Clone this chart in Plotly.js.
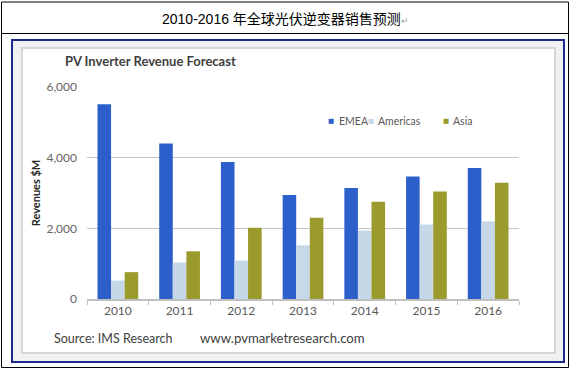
<!DOCTYPE html>
<html><head><meta charset="utf-8">
<script src="https://cdn.plot.ly/plotly-3.0.1.min.js"></script>
<style>html,body{margin:0;padding:0;background:#fff;overflow:hidden;} #chart{width:573px;height:369px;}</style>
</head><body><div id="chart"></div>
<script>
const years = ['2010','2011','2012','2013','2014','2015','2016'];
const emea = [5510, 4400, 3880, 2940, 3140, 3470, 3710];
const americas = [520, 1030, 1090, 1520, 1940, 2110, 2190];
const asia = [760, 1350, 2020, 2300, 2750, 3040, 3290];
const seriesNames = ['EMEA','Americas','Asia'];
const seriesColors = ['#2d5fcb','#c6d7e7','#9b9a2c'];
const yTickVals = [0, 2000, 4000, 6000];
const yTickText = ['0', '2,000', '4,000', '6,000'];
const captionText = '2010-2016 年全球光伏逆变器销售预测';
const chartTitle = 'PV Inverter Revenue Forecast';
const yTitle = 'Revenues $M';
const sourceText = 'Source: IMS Research';
const urlText = 'www.pvmarketresearch.com';

const W = 573, H = 369, L = 87, R = 519, T = 87, B = 299;
const px = x => (x - L) / (R - L);
const py = y => (B - y) / (B - T);

const allValues = [emea, americas, asia];
const traces = allValues.map((vals, i) => ({
  type: 'bar', name: seriesNames[i], x: years, y: vals,
  marker: {color: seriesColors[i], line: {width: 0}},
  hoverinfo: 'x+y+name'
}));

const font = 'Lato, "Open Sans", "DejaVu Sans", sans-serif';

const legendMarkX = [331, 371, 446];
const legendTextX = [336.5, 376, 451];
const annotations = [
  {xref: 'paper', yref: 'paper', x: px(285), y: py(19), xanchor: 'center', yanchor: 'middle', showarrow: false,
   text: captionText + '<span style="color:#a0a0a0;font-size:9px">↵</span>',
   font: {family: '"Liberation Sans", Arial, "Noto Sans CJK SC", sans-serif', size: 14, color: '#000'}},
  {xref: 'paper', yref: 'paper', x: px(52), y: py(338), xanchor: 'left', yanchor: 'middle', showarrow: false,
   text: sourceText, font: {family: font, size: 12.5, color: '#404040'}},
  {xref: 'paper', yref: 'paper', x: px(198), y: py(338), xanchor: 'left', yanchor: 'middle', showarrow: false,
   text: urlText, font: {family: font, size: 13.2, color: '#404040'}}
];
seriesNames.forEach((n, i) => {
  annotations.push({xref: 'paper', yref: 'paper', x: px(legendMarkX[i]), y: py(121), xanchor: 'center', yanchor: 'middle', showarrow: false,
    text: '■', font: {family: '"DejaVu Sans", sans-serif', size: 6.5, color: seriesColors[i]}});
  annotations.push({xref: 'paper', yref: 'paper', x: px(legendTextX[i]), y: py(121), xanchor: 'left', yanchor: 'middle', showarrow: false,
    text: n, font: {family: font, size: 10.5, color: '#595959'}});
});

const shapes = [
  {type: 'rect', xref: 'paper', yref: 'paper', x0: px(12), x1: px(564), y0: py(362), y1: py(40),
   fillcolor: '#f1f1f1', line: {color: '#1a2a8c', width: 2}, layer: 'below'},
  {type: 'rect', xref: 'paper', yref: 'paper', x0: px(22), x1: px(555), y0: py(353), y1: py(48),
   fillcolor: '#ffffff', line: {color: '#d6d6d6', width: 2}, layer: 'below'},
  {type: 'rect', xref: 'paper', yref: 'paper', x0: px(1.5), x1: px(568.5), y0: py(367.5), y1: py(2),
   fillcolor: 'rgba(0,0,0,0)', line: {color: '#000', width: 1}, layer: 'below'},
  {type: 'line', xref: 'paper', yref: 'paper', x0: px(1.5), x1: px(568.5), y0: py(33.5), y1: py(33.5),
   line: {color: '#000', width: 1}, layer: 'below'}
];

const layout = {
  width: W, height: H,
  margin: {l: L, r: W - R, t: T, b: H - B, pad: 0},
  paper_bgcolor: '#ffffff', plot_bgcolor: 'rgba(0,0,0,0)',
  showlegend: false,
  barmode: 'group', bargap: 0.34, bargroupgap: 0,
  title: {text: '<b>' + chartTitle + '</b>', x: 65 / W, xanchor: 'left', y: 1 - 61.5 / H, yanchor: 'middle',
          xref: 'container', yref: 'container', font: {family: font, size: 13, color: '#404040'}},
  xaxis: {type: 'category', showline: true, linecolor: '#bfbfbf', linewidth: 1.5,
          ticks: 'outside', tickson: 'boundaries', ticklen: 4, tickcolor: '#bfbfbf', tickwidth: 1,
          tickfont: {family: font, size: 12, color: '#595959'}, showgrid: false, fixedrange: true},
  yaxis: {range: [0, 6000], tickvals: yTickVals, ticktext: yTickText, showgrid: true,
          gridcolor: '#c4c4c4', gridwidth: 1.5, zeroline: false, showline: false, ticks: '',
          ticklabelstandoff: 9,
          tickfont: {family: font, size: 12, color: '#666666'},
          title: {text: '<b>' + yTitle + '</b>', standoff: 3, font: {family: font, size: 11, color: '#262626'}},
          fixedrange: true},
  annotations: annotations,
  shapes: shapes
};

Plotly.newPlot('chart', traces, layout, {displayModeBar: false, staticPlot: true});
</script>
</body></html>
